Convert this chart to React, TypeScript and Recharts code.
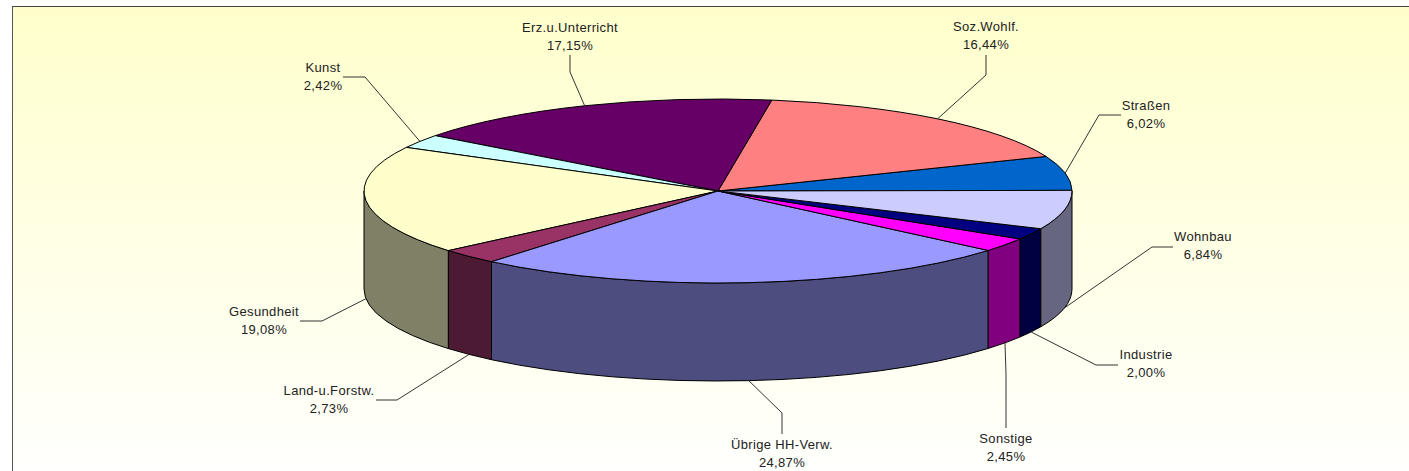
import React from "react";
import { PieChart, Pie } from "recharts";

const categories = ["Straßen", "Soz.Wohlf.", "Erz.u.Unterricht", "Kunst", "Gesundheit", "Land-u.Forstw.", "Übrige HH-Verw.", "Sonstige", "Industrie", "Wohnbau"];
const shares = [6.02, 16.44, 17.15, 2.42, 19.08, 2.73, 24.87, 2.45, 2.0, 6.84];
const topColors = ["#0066CC", "#FF8080", "#660066", "#CCFFFF", "#FFFFCC", "#993366", "#9999FF", "#FF00FF", "#000080", "#CCCCFF"];
const sideColors = ["#003366", "#804040", "#330033", "#668080", "#808066", "#4D1A33", "#4D4D80", "#800080", "#000040", "#666680"];

const topData = categories.map((name, i) => ({ name, value: shares[i], fill: topColors[i] }));
const sideData = categories.map((name, i) => ({ name, value: shares[i], fill: sideColors[i] }));

// Leader elbow start and text centre for each label
const labelLayout = [
  { tx: 1146, ty: 106, elbow: [[1099, 115], [1121, 115]] },
  { tx: 986, ty: 27, elbow: [[986, 75], [986, 55]] },
  { tx: 570, ty: 28, elbow: [[570, 72], [570, 55]] },
  { tx: 323, ty: 68, elbow: [[365, 77], [343, 77]] },
  { tx: 264, ty: 312, elbow: [[322, 321], [300, 321]] },
  { tx: 329, ty: 391, elbow: [[397, 400], [376, 400]] },
  { tx: 782, ty: 445, elbow: [[782, 413], [782, 434]] },
  { tx: 1006, ty: 439, elbow: [[1006, 374], [1006, 428]] },
  { tx: 1146, ty: 355, elbow: [[1096, 365], [1118, 365]] },
  { tx: 1203, ty: 237, elbow: [[1152, 247], [1173, 247]] },
];

const CX = 718;
const CY = 191;
const RX = 354;
const RY = 92;
const DEPTH = 98;
const START = 0.4;

const pt = (cx: number, cy: number, rx: number, deg: number, dy = 0) => {
  const t = (deg * Math.PI) / 180;
  const ry = (rx * RY) / RX;
  return [cx + rx * Math.cos(t), cy - ry * Math.sin(t) + dy];
};

const TopShape = (p: any) => {
  const { cx, cy, outerRadius: rx, startAngle, endAngle, fill } = p;
  const ry = (rx * RY) / RX;
  const a = pt(cx, cy, rx, startAngle);
  const b = pt(cx, cy, rx, endAngle);
  const large = endAngle - startAngle > 180 ? 1 : 0;
  return (
    <path
      d={`M${cx},${cy}L${a[0]},${a[1]}A${rx},${ry} 0 ${large} 0 ${b[0]},${b[1]}Z`}
      fill={fill}
      stroke="#000"
      strokeWidth={1}
      strokeLinejoin="round"
    />
  );
};

const SideShape = (p: any) => {
  const { cx, cy, outerRadius: rx, startAngle, endAngle, fill } = p;
  const ry = (rx * RY) / RX;
  const a0 = Math.max(startAngle, 180);
  const a1 = Math.min(endAngle, 360);
  if (a1 <= a0) return <g />;
  const a = pt(cx, cy, rx, a0);
  const b = pt(cx, cy, rx, a1);
  const c = pt(cx, cy, rx, a1, DEPTH);
  const d = pt(cx, cy, rx, a0, DEPTH);
  return (
    <path
      d={`M${a[0]},${a[1]}A${rx},${ry} 0 0 0 ${b[0]},${b[1]}L${c[0]},${c[1]}A${rx},${ry} 0 0 1 ${d[0]},${d[1]}Z`}
      fill={fill}
      stroke="#000"
      strokeWidth={1}
      strokeLinejoin="round"
    />
  );
};

const textStyle = { fontFamily: "'Liberation Sans', Arial, sans-serif", fontSize: 13, letterSpacing: 0.35 };

const renderLabel = (p: any) => {
  const { cx, cy, outerRadius: rx, midAngle, index, name, value } = p;
  const layout = labelLayout[index];
  const s = Math.sin((midAngle * Math.PI) / 180);
  const anchor = pt(cx, cy, rx, midAngle, s < 0 ? DEPTH : 0);
  const points = [anchor, ...layout.elbow].map((q) => q.join(",")).join(" ");
  const text = `${value.toFixed(2).replace(".", ",")}%`;
  return (
    <g key={name}>
      <polyline points={points} fill="none" stroke="#333" strokeWidth={1} />
      <text x={layout.tx} y={layout.ty + 3.5} textAnchor="middle" fill="#222" style={textStyle}>
        {name}
      </text>
      <text x={layout.tx} y={layout.ty + 21.5} textAnchor="middle" fill="#222" style={textStyle}>
        {text}
      </text>
    </g>
  );
};

export default function App() {
  return (
    <div style={{ position: "fixed", left: 0, top: 0, width: 1409, height: 471, overflow: "hidden", background: "#fff" }}>
      <div
        style={{
          position: "absolute",
          left: 12,
          top: 6,
          width: 1500,
          height: 600,
          borderLeft: "1px solid #555",
          borderTop: "1px solid #444",
          background: "linear-gradient(180deg, #FFFFCC 0px, #FFFFFF 480px)",
        }}
      />
      <div style={{ position: "absolute", left: 0, top: 0 }}>
        <PieChart width={1409} height={471} margin={{ top: 0, right: 0, bottom: 0, left: 0 }}>
          <Pie
            data={sideData}
            dataKey="value"
            nameKey="name"
            cx={CX}
            cy={CY}
            innerRadius={0}
            outerRadius={RX}
            startAngle={START}
            endAngle={360 + START}
            paddingAngle={0}
            shape={SideShape}
            label={false}
            labelLine={false}
            isAnimationActive={false}
          />
          <Pie
            data={topData}
            dataKey="value"
            nameKey="name"
            cx={CX}
            cy={CY}
            innerRadius={0}
            outerRadius={RX}
            startAngle={START}
            endAngle={360 + START}
            paddingAngle={0}
            shape={TopShape}
            label={renderLabel}
            labelLine={false}
            isAnimationActive={false}
          />
        </PieChart>
      </div>
    </div>
  );
}
